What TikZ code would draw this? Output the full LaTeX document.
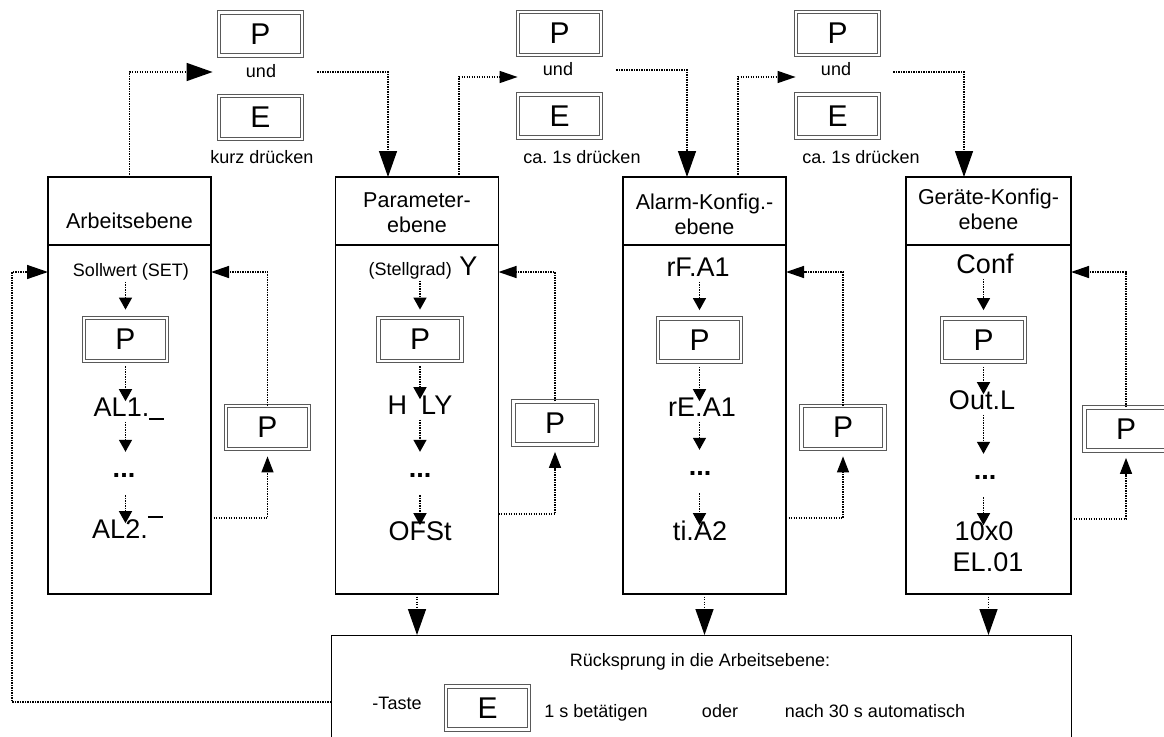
\documentclass[tikz,border=0pt]{standalone}
\usepackage{fontspec}
\setmainfont{Liberation Sans}
\usetikzlibrary{arrows.meta}

\newcommand\dispfont{\fontsize{27}{30}\selectfont}
\newcommand\headfont{\fontsize{21.5}{25}\selectfont}
\newcommand\lblfont{\fontsize{18}{21}\selectfont}
\newcommand\keyfont{\fontsize{30}{32}\selectfont}

\tikzset{
  ebenebox/.style={draw, line width=1.3pt, minimum width=163pt, minimum height=417pt, anchor=north, inner sep=0, outer sep=0},
  headline/.style={line width=2.2pt},
  headtxt/.style={font=\headfont, align=center, inner sep=0},
  disp/.style={font=\dispfont, inner sep=0, text height=.72em, text depth=0pt},
  lbl/.style={font=\lblfont, inner sep=0, text height=.72em, text depth=0pt},
  more/.style={font=\dispfont\bfseries, inner sep=0, minimum height=30pt},
  btn/.style={draw=black!65, double, double distance=2.5pt, line width=0.8pt, minimum width=83pt, minimum height=43pt, inner sep=0, font=\keyfont},
  dotline/.style={line width=1.4pt, dash pattern=on 1.4pt off 1.1pt},
  bigtip/.style={-{Triangle[length=26pt,width=18pt]}},
  midtip/.style={-{Triangle[length=18pt,width=12pt]}},
  chain/.style={dotline, -{Triangle[length=12pt,width=13pt]}, shorten <=5pt, shorten >=8pt},
  loopup/.style={dotline, -{Triangle[length=16pt,width=12pt]}, shorten >=7pt}
}

\begin{document}
\frenchspacing
\begin{tikzpicture}[x=1pt, y=-1pt]
\useasboundingbox (0,0) rectangle (1164,736);
\clip (0,0) rectangle (1164,736);

% Ebenen
\node[ebenebox] (L1) at (129.5,177) {};
\node[ebenebox] (L2) at (417,177) {};
\node[ebenebox] (L3) at (704.5,177) {};
\node[ebenebox, minimum width=165pt] (L4) at (988.5,177) {};
\draw[headline] (L1.west |- 0,245) -- (L1.east |- 0,245);
\draw[headline] (L2.west |- 0,245) -- (L2.east |- 0,245);
\draw[headline] (L3.west |- 0,245) -- (L3.east |- 0,245);
\draw[headline] (L4.west |- 0,245) -- (L4.east |- 0,245);
\node[headtxt] (h1) at (129.5,221) {Arbeitsebene};
\node[headtxt] (h2) at (417,212.5) {Parameter-\\ebene};
\node[headtxt] (h3) at (704.5,214) {Alarm-Konfig.-\\ebene};
\node[headtxt] (h4) at (988.5,209) {Geräte-Konfig-\\ebene};

% Arbeitsebene
\node[lbl] (s1) at (131,273) {Sollwert (SET)};
\node[btn] (p1) at (125.5,339.5) {P};
\node[disp] (a1) at (129,413) {AL1.\rule[-3pt]{15pt}{1.5pt}};
\node[more] (d1) at (124,475) {...};
\node[disp] (a2) at (127.5,535) {AL2.\rule[21pt]{15pt}{1.5pt}};
\draw[chain] (p1 |- s1.south) -- (p1.north);
\draw[chain] (p1.south) -- (p1 |- a1.north);
\draw[chain] (p1 |- a1.south) -- (p1 |- d1.north);
\draw[chain] (p1 |- d1.south) -- (p1 |- a2.north);

% Parameterebene
\node[disp] (s2) at (423,272) {{\lblfont(Stellgrad)} Y};
\node[btn] (p2) at (420,339.5) {P};
\node[disp] (y2) at (420,411) {H\hspace{14pt}LY};
\node[more] (d2) at (420,475) {...};
\node[disp] (o2) at (420,537) {OFSt};
\draw[chain] (p2 |- s2.south) -- (p2.north);
\draw[chain] (p2.south) -- (p2 |- y2.north);
\draw[chain] (p2 |- y2.south) -- (p2 |- d2.north);
\draw[chain] (p2 |- d2.south) -- (p2 |- o2.north);

% Alarm-Konfig.-ebene
\node[disp] (s3) at (698,273) {rF.A1};
\node[btn] (p3) at (699.5,340) {P};
\node[disp] (r3) at (702,413) {rE.A1};
\node[more] (d3) at (700,473) {...};
\node[disp] (t3) at (700,537) {ti.A2};
\draw[chain] (p3 |- s3.south) -- (p3.north);
\draw[chain] (p3.south) -- (p3 |- r3.north);
\draw[chain] (p3 |- r3.south) -- (p3 |- d3.north);
\draw[chain] (p3 |- d3.south) -- (p3 |- t3.north);

% Geraete-Konfig-ebene
\node[disp] (s4) at (985,270) {Conf};
\node[btn] (p4) at (983.5,340) {P};
\node[disp] (o4) at (982,406) {Out.L};
\node[more] (d4) at (985,477) {...};
\node[disp] (n4) at (984,537) {10x0};
\node[disp] (e4) at (988,568) {EL.01};
\draw[chain] (p4 |- s4.south) -- (p4.north);
\draw[chain] (p4.south) -- (p4 |- o4.north);
\draw[chain] (p4 |- o4.south) -- (p4 |- d4.north);
\draw[chain] (p4 |- d4.south) -- (p4 |- n4.north);

% P-Tasten rechts
\node[btn] (q1) at (267.5,427.5) {P};
\node[btn] (q2) at (555,423) {P};
\node[btn] (q3) at (843,427.5) {P};
\node[btn] (q4) at (1126,429) {P};
\draw[loopup] (L1.east |- 0,518) -| (q1.south);
\draw[dotline, midtip] (q1.north) |- (L1.east |- 0,272);
\draw[loopup] (L2.east |- 0,514) -| (q2.south);
\draw[dotline, midtip] (q2.north) |- (L2.east |- 0,272);
\draw[loopup] (L3.east |- 0,518) -| (q3.south);
\draw[dotline, midtip] (q3.north) |- (L3.east |- 0,272);
\draw[loopup] (L4.east |- 0,519) -| (q4.south);
\draw[dotline, midtip] (q4.north) |- (L4.east |- 0,272);

% Tastenkombinationen oben
\node[btn] (T1) at (260.5,34) {P};
\node[lbl] (u1) at (261,74) {und};
\node[btn] (E1) at (260.5,117.5) {E};
\node[lbl] (k1) at (262,160) {kurz drücken};
\node[btn] (T2) at (559.5,33.5) {P};
\node[lbl] (u2) at (558,72) {und};
\node[btn] (E2) at (559.5,116) {E};
\node[lbl] (k2) at (582,160) {ca. 1s drücken};
\node[btn] (T3) at (837.5,33.5) {P};
\node[lbl] (u3) at (836,72) {und};
\node[btn] (E3) at (837.5,116) {E};
\node[lbl] (k3) at (861,160) {ca. 1s drücken};
\draw[dotline, bigtip, shorten >=6pt] (L1.north) |- (T1.west |- 0,72);
\draw[dotline, bigtip, shorten <=15pt] (T1.east |- 0,72) -| ([xshift=-29pt]L2.north);
\draw[dotline, midtip] ([xshift=42pt]L2.north) |- (T2.west |- 0,77);
\draw[dotline, bigtip, shorten <=15pt] (T2.east |- 0,70) -| ([xshift=-17.5pt]L3.north);
\draw[dotline, midtip] ([xshift=33.5pt]L3.north) |- (T3.west |- 0,77);
\draw[dotline, bigtip, shorten <=14pt] (T3.east |- 0,72) -| ([xshift=-24.5pt]L4.north);

% Ruecksprung
\node[draw, line width=1pt, minimum width=740pt, minimum height=110pt, anchor=north, outer sep=0] (R) at (701,635) {};
\node[lbl] (rt) at (700,663) {Rücksprung in die Arbeitsebene:};
\node[lbl] (ta) at (397,706) {-Taste};
\node[btn] (E0) at (487.5,708) {E};
\node[lbl] (bt) at (596,714) {1 s betätigen};
\node[lbl] (od) at (720,714) {oder};
\node[lbl] (au) at (875,714) {nach 30 s automatisch};
\draw[dotline, bigtip] (L2.south) -- (L2.south |- R.north);
\draw[dotline, bigtip] (L3.south) -- (L3.south |- R.north);
\draw[dotline, bigtip] (L4.south) -- (L4.south |- R.north);
\coordinate (ret) at (12,272);
\draw[dotline, -{Triangle[length=21pt,width=14pt]}] (R.west |- 0,702) -| (ret) -- (L1.west |- ret);
\end{tikzpicture}
\end{document}
